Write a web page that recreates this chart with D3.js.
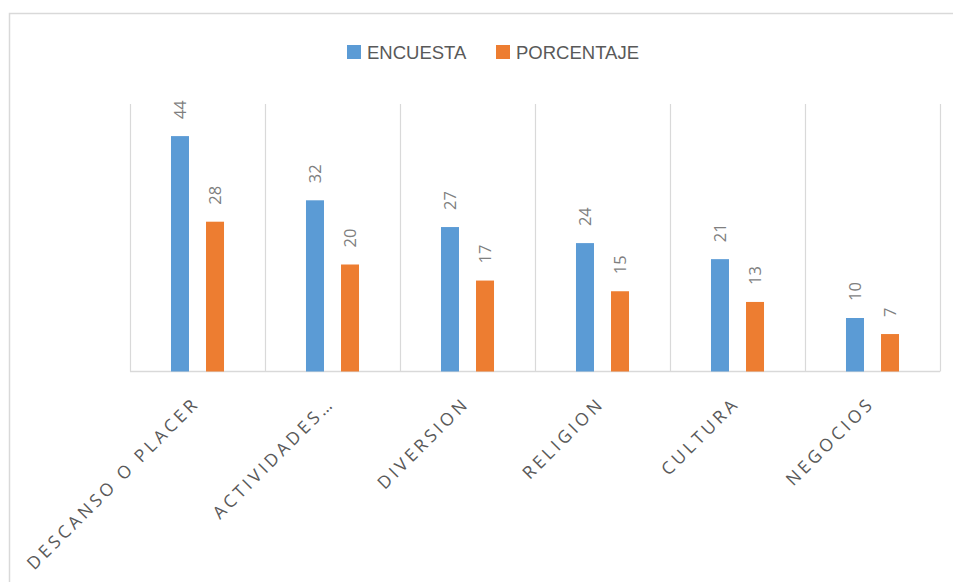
<!DOCTYPE html>
<html>
<head>
<meta charset="utf-8">
<script src="https://cdn.jsdelivr.net/npm/d3@7"></script>
<style>
  body { margin: 0; background: #fff; }
  svg { display: block; }
</style>
</head>
<body>
<div id="chart"></div>
<script>
const categories = ["DESCANSO O PLACER", "ACTIVIDADES…", "DIVERSION", "RELIGION", "CULTURA", "NEGOCIOS"];
const seriesNames = ["ENCUESTA", "PORCENTAJE"];
const encuesta = [44, 32, 27, 24, 21, 10];
const porcentaje = [28, 20, 17, 15, 13, 7];
const colors = ["#5b9bd5", "#ed7d31"];

class BarChart {
  constructor(id, width, height) {
    this.width = width;
    this.height = height;
    this.svg = d3.select(`#${id}`)
      .append("svg")
      .attr("width", width)
      .attr("height", height);
    this.rows = categories.map((c, i) => ({ cat: c, values: [encuesta[i], porcentaje[i]] }));
    this.x = d3.scaleBand().domain(categories).range([130, 940]);
    this.x1 = d3.scaleBand().domain(seriesNames)
      .range([0, this.x.bandwidth()])
      .paddingInner(0.486)
      .paddingOuter(1.17);
    this.y = d3.scaleLinear().domain([0, 50]).range([371.5, 104]);
    this.drawFrame();
    this.drawGrid();
    this.drawBars();
    this.drawLabels();
    this.drawLegend();
  }

  drawFrame() {
    // chart border, runs off the right and bottom of the picture
    this.svg.append("rect")
      .attr("x", 9.5).attr("y", 13.5)
      .attr("width", 960).attr("height", 600)
      .attr("fill", "none")
      .attr("stroke", "#d9d9d9")
      .attr("stroke-width", 1.5);
  }

  drawGrid() {
    const edges = categories.map(c => this.x(c)).concat([this.x.range()[1]]);
    this.svg.append("g")
      .selectAll("line")
      .data(edges)
      .join("line")
      .attr("x1", d => Math.round(d) + 0.5)
      .attr("x2", d => Math.round(d) + 0.5)
      .attr("y1", this.y(50))
      .attr("y2", this.y(0))
      .attr("stroke", "#d9d9d9")
      .attr("stroke-width", 1.2);
    this.svg.append("line")
      .attr("x1", this.x.range()[0])
      .attr("x2", this.x.range()[1])
      .attr("y1", this.y(0))
      .attr("y2", this.y(0))
      .attr("stroke", "#d9d9d9")
      .attr("stroke-width", 1.5);
  }

  drawBars() {
    const g = this.svg.append("g")
      .selectAll("g")
      .data(this.rows)
      .join("g")
      .attr("transform", d => `translate(${this.x(d.cat)},0)`);

    g.selectAll("rect")
      .data(d => d.values.map((v, i) => ({ key: seriesNames[i], v, i })))
      .join("rect")
      .attr("x", d => this.x1(d.key))
      .attr("y", d => this.y(d.v))
      .attr("width", this.x1.bandwidth())
      .attr("height", d => this.y(0) - this.y(d.v))
      .attr("fill", d => colors[d.i]);

    // data labels, rotated
    g.selectAll("text")
      .data(d => d.values.map((v, i) => ({ key: seriesNames[i], v, i })))
      .join("text")
      .attr("transform", d => `translate(${this.x1(d.key) + this.x1.bandwidth() / 2},${this.y(d.v) - 17}) rotate(-90)`)
      .attr("dy", "0.36em")
      .attr("font-family", "'Open Sans', sans-serif")
      .attr("font-size", 16.5)
      .attr("fill", "#7f7f7f")
      .text(d => d.v);
  }

  drawLabels() {
    this.svg.append("g")
      .selectAll("text")
      .data(categories)
      .join("text")
      .attr("transform", d => `translate(${this.x(d) + this.x.bandwidth() / 2 + 3},${this.y(0) + 33}) rotate(-45)`)
      .attr("text-anchor", "end")
      .attr("font-family", "'Open Sans', sans-serif")
      .attr("font-size", 17.5)
      .attr("letter-spacing", "3.5px")
      .attr("fill", "#595959")
      .text(d => d);
  }

  drawLegend() {
    const items = [
      { name: seriesNames[0], x: 347 },
      { name: seriesNames[1], x: 496 },
    ];
    const lg = this.svg.append("g")
      .selectAll("g")
      .data(items)
      .join("g")
      .attr("transform", d => `translate(${d.x},45)`);
    lg.append("rect")
      .attr("width", 14).attr("height", 14)
      .attr("fill", (d, i) => colors[i]);
    lg.append("text")
      .attr("x", 20).attr("y", 14)
      .attr("font-family", "'Liberation Sans', Arial, sans-serif")
      .attr("font-size", 18.5)
      .attr("fill", "#595959")
      .text(d => d.name);
  }
}

new BarChart("chart", 953, 582);
</script>
</body>
</html>
